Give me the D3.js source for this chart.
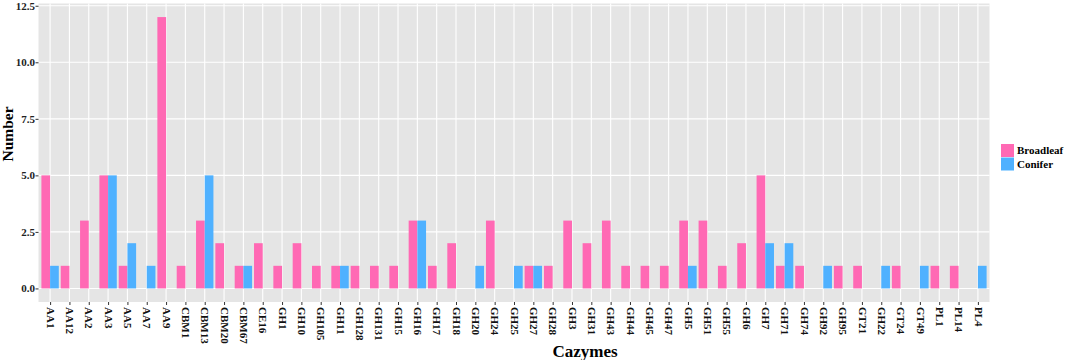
<!DOCTYPE html>
<html>
<head>
<meta charset="utf-8">
<script src="https://cdn.jsdelivr.net/npm/d3@7"></script>
<style>
  body { margin: 0; background: #fff; }
  text { font-family: "Liberation Serif", "Times New Roman", serif; font-weight: bold; }
</style>
</head>
<body>
<svg id="chart" width="1065" height="360"></svg>
<script>
var cazymes = ["AA1","AA12","AA2","AA3","AA5","AA7","AA9","CBM1","CBM13","CBM20","CBM67","CE16",
  "GH1","GH10","GH105","GH11","GH128","GH131","GH15","GH16","GH17","GH18","GH20","GH24","GH25",
  "GH27","GH28","GH3","GH31","GH43","GH44","GH45","GH47","GH5","GH51","GH55","GH6","GH7","GH71",
  "GH74","GH92","GH95","GT21","GH22","GT24","GT49","PL1","PL14","PL4"];
var broadleaf = [5,1,3,5,1,0,12,1,3,2,1,2,
  1,2,1,1,1,1,1,3,1,2,0,3,0,
  1,1,3,2,3,1,1,1,3,3,1,2,5,1,
  1,0,1,1,0,1,0,1,1,0];
var conifer = [1,0,0,5,2,1,0,0,5,0,1,0,
  0,0,0,1,0,0,0,3,0,0,1,0,1,
  1,0,0,0,0,0,0,0,1,0,0,0,2,2,
  0,1,0,0,1,0,1,0,0,1];
var groups = ["Broadleaf", "Conifer"];
var yTicks = [0, 2.5, 5, 7.5, 10, 12.5];

var colors = {"Broadleaf": "#FF69B4", "Conifer": "#4FB1FF"};

var margin = {left: 38.5, right: 75.5, top: 3.5, bottom: 58};
var width = 1065 - margin.left - margin.right,
    height = 360 - margin.top - margin.bottom;

var svg = d3.select("#chart");
var g = svg.append("g")
  .attr("transform", "translate(" + margin.left + "," + margin.top + ")");

// ggplot style discrete expansion of 0.6 on each side
var step = width / (cazymes.length - 1 + 1.2);
var x = d3.scalePoint()
  .domain(cazymes)
  .range([0.6 * step, width - 0.6 * step]);

var y = d3.scaleLinear()
  .domain([-0.6, 12.6])
  .range([height, 0]);

var sub = d3.scaleBand()
  .domain(groups)
  .range([-0.45 * step, 0.45 * step]);

g.append("rect")
  .attr("width", width)
  .attr("height", height)
  .attr("fill", "#E5E5E5");

// grid
g.selectAll(".vgrid")
  .data(cazymes)
  .enter().append("line")
  .attr("x1", function(d) { return x(d); })
  .attr("x2", function(d) { return x(d); })
  .attr("y1", 0).attr("y2", height)
  .attr("stroke", "#fff").attr("stroke-width", 1.1);

g.selectAll(".hgrid")
  .data(yTicks)
  .enter().append("line")
  .attr("x1", 0).attr("x2", width)
  .attr("y1", function(d) { return y(d); })
  .attr("y2", function(d) { return y(d); })
  .attr("stroke", "#fff").attr("stroke-width", 1.1);

// bars
var rows = cazymes.map(function(c, i) {
  return {name: c, values: [
    {group: "Broadleaf", value: broadleaf[i]},
    {group: "Conifer", value: conifer[i]}
  ]};
});

var cat = g.selectAll(".cat")
  .data(rows)
  .enter().append("g")
  .attr("transform", function(d) { return "translate(" + x(d.name) + ",0)"; });

cat.selectAll("rect")
  .data(function(d) { return d.values.filter(function(v) { return v.value > 0; }); })
  .enter().append("rect")
  .attr("x", function(d) { return sub(d.group); })
  .attr("width", sub.bandwidth())
  .attr("y", function(d) { return y(d.value); })
  .attr("height", function(d) { return y(0) - y(d.value); })
  .attr("fill", function(d) { return colors[d.group]; });

// axes
var yAxis = g.append("g")
  .call(d3.axisLeft(y).tickValues(yTicks).tickSize(3).tickFormat(d3.format(".1f")));
yAxis.select(".domain").remove();
yAxis.selectAll("line").attr("stroke", "#333");
yAxis.selectAll("text")
  .attr("x", -3.5)
  .style("font-size", "11px")
  .style("font-family", "Liberation Serif")
  .style("font-weight", "bold")
  .attr("fill", "#222");

var xAxis = g.append("g")
  .attr("transform", "translate(0," + height + ")")
  .call(d3.axisBottom(x).tickSize(3));
xAxis.select(".domain").remove();
xAxis.selectAll("line").attr("stroke", "#333");
xAxis.selectAll("text")
  .attr("transform", "rotate(90)")
  .attr("x", 5)
  .attr("y", 0)
  .attr("dy", "0.35em")
  .style("text-anchor", "start")
  .style("font-size", "11px")
  .style("font-family", "Liberation Serif")
  .style("font-weight", "bold")
  .attr("fill", "#111");

// titles
svg.append("text")
  .attr("transform", "translate(13,134) rotate(-90)")
  .attr("text-anchor", "middle")
  .style("font-size", "15.5px")
  .text("Number");

svg.append("text")
  .attr("x", 585)
  .attr("y", 357)
  .attr("text-anchor", "middle")
  .style("font-size", "17px")
  .text("Cazymes");

// legend
var legend = svg.selectAll(".legend")
  .data(groups)
  .enter().append("g")
  .attr("transform", function(d, i) { return "translate(1001," + (144 + i * 13.5) + ")"; });

legend.append("rect")
  .attr("width", 13).attr("height", 13)
  .attr("fill", function(d) { return colors[d]; });

legend.append("text")
  .attr("x", 16).attr("y", 6.5).attr("dy", "0.35em")
  .style("font-size", "11px")
  .text(function(d) { return d; });
</script>
</body>
</html>
